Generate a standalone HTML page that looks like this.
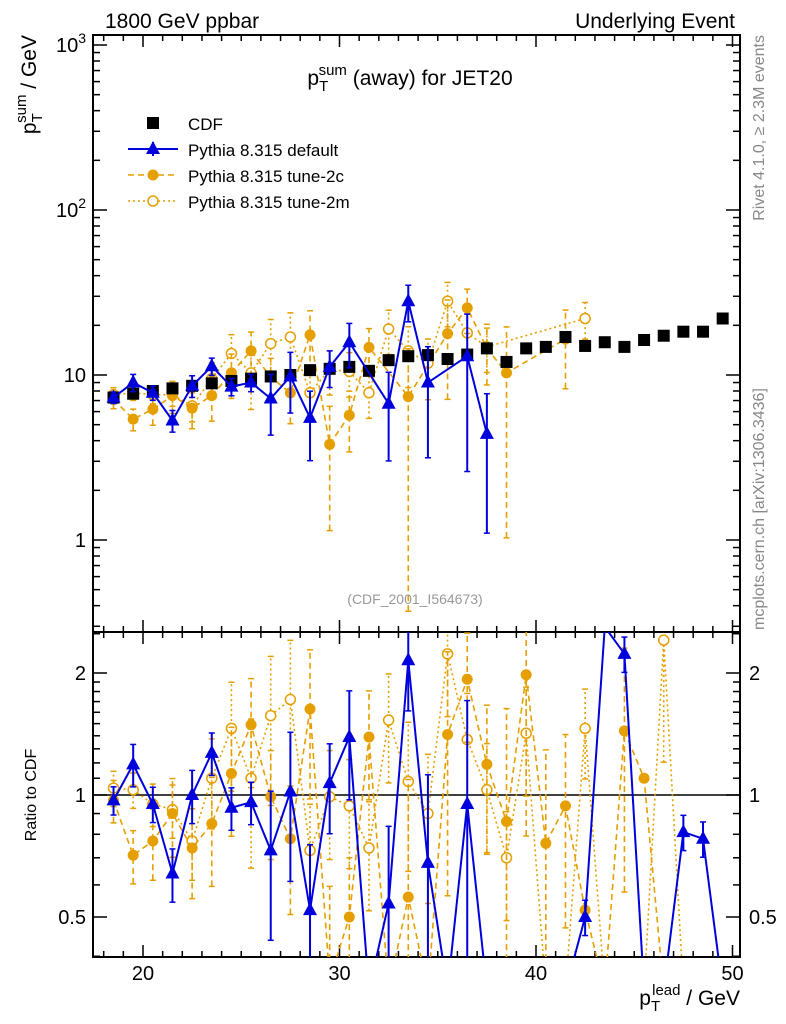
<!DOCTYPE html>
<html><head><meta charset="utf-8"><style>
html,body{margin:0;padding:0;background:#fff;width:786px;height:1024px;overflow:hidden;position:relative}
svg{display:block;font-family:"Liberation Sans",sans-serif}
</style></head><body>
<svg id="c" width="786" height="1024" viewBox="0 0 786 1024" style="position:absolute;left:0;top:0"></svg>
<script>
// ---- data ----
const bins = [18.5,19.5,20.5,21.5,22.5,23.5,24.5,25.5,26.5,27.5,28.5,29.5,30.5,31.5,32.5,33.5,34.5,35.5,36.5,37.5,38.5,39.5,40.5,41.5,42.5,43.5,44.5,45.5,46.5,47.5,48.5,49.5];
const cdf = [7.3,7.7,8.0,8.3,8.6,8.9,9.2,9.5,9.8,10.0,10.7,10.9,11.2,10.6,12.3,13.0,13.2,12.5,13.3,14.5,12.0,14.5,14.8,17.0,15.0,15.8,14.8,16.3,17.3,18.3,18.3,22.0];
const pyDef = [7.3,9.0,7.8,5.3,8.6,11.3,8.5,9.0,7.2,9.8,5.5,11.2,15.8,null,6.7,28,9.0,null,13.0,4.4,null,null,null,null,null,null,null,null,null,null,null,null];
const py2c = [7.1,5.4,6.2,7.5,6.3,7.5,10.3,14.0,9.7,7.8,17.5,3.8,5.7,14.7,null,7.4,null,17.8,25.5,14.5,10.3,null,null,16.5,null,null,null,null,null,null,null,null];
const py2m = [7.6,7.8,7.6,7.6,6.5,9.5,13.5,10.3,15.5,17.0,7.8,10.8,10.5,7.8,19.0,14.0,11.8,28.0,18.0,14.8,null,null,null,null,22.0,null,null,null,null,null,null,null];
const errDef = [0.08,0.12,0.1,0.15,0.15,0.12,0.12,0.12,0.4,0.4,0.45,0.25,0.3,0,0.55,0.25,0.65,0,0.8,0.75,0,0,0,0,0.1,0,0.1,0,0,0.1,0.1,0];
const err2c = [0.12,0.15,0.2,0.22,0.25,0.3,0.3,0.3,0.3,0.35,0.4,0.7,0.4,0.3,0,0.95,0,0.6,0.3,0.4,0.9,0.6,0.7,0.5,0,0,0.6,0,0,0,0,0];
const err2m = [0.1,0.1,0.12,0.15,0.2,0.25,0.3,0.4,0.4,0.4,0.3,0.3,0.3,0.3,0.3,0.4,0.4,0.3,0.3,0.3,0.3,0.3,0,0,0.25,0,0,0,0.5,0,0,0];
const ratioDef = [0.97,1.19,0.95,0.64,1.0,1.27,0.93,0.96,0.73,1.02,0.52,1.07,1.39,0,0.54,2.15,0.68,0,0.95,0,0,0,0,0,0.5,3.0,2.23,0,0,0.81,0.78,0];
const ratio2c = [0.97,0.71,0.77,0.90,0.74,0.85,1.13,1.49,0.99,0.78,1.63,0.35,0.5,1.39,0.3,0.56,0.3,1.41,1.93,1.19,0.86,1.98,0.76,0.94,0.52,0,1.44,1.1,0,0,0,0];
const ratio2m = [1.04,1.03,0.95,0.92,0.77,1.10,1.46,1.10,1.57,1.72,0.73,0.99,0.94,0.74,1.53,1.08,0.9,2.23,1.37,1.03,0.70,1.42,0,0,1.46,0,0,0,2.41,0,0,0];
const mainTicks = [1,10,100,1000];
const mainTickLabels = ["1","10","10\u00B2","10\u00B3"];
const ratioTicks = [0.5,1,2];
const xTicks = [20,30,40,50];

// ---- geometry ----
const L=93,R=740,T=35,MB=632,RB=957;
const X=v=>143+(v-20)*19.65;
const YM=v=>540-Math.log10(v)*165;
const YR=v=>795-Math.log2(v)*122;
const NS="http://www.w3.org/2000/svg";
const svg=document.getElementById('c');
function el(tag,attrs,parent){const e=document.createElementNS(NS,tag);for(const k in attrs)e.setAttribute(k,attrs[k]);(parent||svg).appendChild(e);return e;}
function txt(s,attrs,parent){const e=el('text',attrs,parent);e.textContent=s;return e;}

const defs=el('defs',{});
const c1=el('clipPath',{id:'cm'},defs);el('rect',{x:L,y:T,width:R-L,height:MB-T},c1);
const c2=el('clipPath',{id:'cr'},defs);el('rect',{x:L,y:MB,width:R-L,height:RB-MB},c2);

const fm=el('rect',{x:L,y:T,width:R-L,height:MB-T,fill:'none',stroke:'#000','stroke-width':2});

const fr=el('rect',{x:L,y:MB,width:R-L,height:RB-MB,fill:'none',stroke:'#000','stroke-width':2});


const gx=el('g',{stroke:'#000','stroke-width':1.5});

for(let v=18;v<=50;v++){const x=X(v);const len=v%10==0?12:6;
 [T,MB].forEach(y0=>{el('line',{x1:x,y1:y0,x2:x,y2:y0+len},gx);});
 [MB,RB].forEach(y0=>{el('line',{x1:x,y1:y0,x2:x,y2:y0-len},gx);});}
xTicks.forEach(v=>{const t=txt(String(v),{x:X(v),y:980,'font-size':20,'text-anchor':'middle'});
 });

const gy=el('g',{stroke:'#000','stroke-width':1.5});

for(let d=-1;d<=3;d++)for(let m=1;m<10;m++){const v=m*Math.pow(10,d);const y=YM(v);if(y<T||y>MB)continue;
 const len=m==1?14:7;el('line',{x1:L,y1:y,x2:L+len,y2:y},gy);el('line',{x1:R,y1:y,x2:R-len,y2:y},gy);}
mainTicks.forEach((v,i)=>{const lab=mainTickLabels[i];const y=YM(v)+7;
 let t;
 if(lab.length>2){t=txt('',{x:86,y:y,'font-size':20,'text-anchor':'end'});
  const a=el('tspan',{},t);a.textContent='10';const b=el('tspan',{dy:-9,'font-size':14},t);b.textContent=lab.slice(2)=='\u00B2'?'2':'3';}
 else t=txt(lab,{x:86,y:y,'font-size':20,'text-anchor':'end'});
 });

const gr=el('g',{stroke:'#000','stroke-width':1.5});

for(let v=0.4;v<=2.55;v+=(v<2-1e-9?0.1:0.5)){const y=YR(v);if(y<MB||y>RB)continue;
 const maj=[0.5,1,2].some(m=>Math.abs(m-v)<1e-6);const len=maj?14:7;
 el('line',{x1:L,y1:y,x2:L+len,y2:y},gr);el('line',{x1:R,y1:y,x2:R-len,y2:y},gr);}
ratioTicks.forEach(v=>{const y=YR(v)+7;
 const t1=txt(String(v),{x:86,y:y,'font-size':20,'text-anchor':'end'});
 
 const t2=txt(String(v),{x:749,y:y,'font-size':20});
 });
const ref=el('line',{x1:L,y1:YR(1),x2:R,y2:YR(1),stroke:'#000','stroke-width':1.5});


const BLUE='#0000dd',ORG='#e69f00';
function marker(g,type,x,y,col){
 if(type=='sq')el('rect',{x:x-6,y:y-6,width:12,height:12,fill:'#000'},g);
 else if(type=='tri')el('path',{d:`M${x},${y-8}L${x+7},${y+5}L${x-7},${y+5}Z`,fill:col},g);
 else if(type=='dot')el('circle',{cx:x,cy:y,r:5.5,fill:col},g);
 else el('circle',{cx:x,cy:y,r:5,fill:'#fff',stroke:col,'stroke-width':1.5},g);}
function series(name,vals,errs,Y,clip,col,dash,type,connect,isRatio){
 const g=el('g',{'clip-path':`url(#${clip})`});
 
 const lo0=isRatio?0.33:0.2, hi0=isRatio?2.6:1100;
 const pts=[];
 vals.forEach((v,i)=>{if(v===null)return;if(v<=0&&!isRatio)return;
  const vv=Math.min(Math.max(v,lo0),hi0);pts.push([X(bins[i]),Y(vv),v,errs?errs[i]:0]);});
 if(connect&&pts.length)el('polyline',{points:pts.map(p=>p[0]+','+p[1]).join(' '),fill:'none',stroke:col,'stroke-width':col==BLUE?2:1.6,'stroke-dasharray':dash},g);
 pts.forEach(p=>{if(p[2]<lo0||p[2]>hi0)return;
  if(p[3]>0){const lo=Math.max(p[2]*(1-p[3]),lo0),hi=Math.min(p[2]*(1+p[3]),hi0);
   const y1=Y(lo),y2=Y(hi);
   el('line',{x1:p[0],y1:y1,x2:p[0],y2:y2,stroke:col,'stroke-width':col==BLUE?2:1.6,'stroke-dasharray':dash},g);
   el('line',{x1:p[0]-3,y1:y1,x2:p[0]+3,y2:y1,stroke:col,'stroke-width':1.5},g);
   el('line',{x1:p[0]-3,y1:y2,x2:p[0]+3,y2:y2,stroke:col,'stroke-width':1.5},g);}
  marker(g,type,p[0],p[1],col);});}
series('series-tune-2m',py2m,err2m,YM,'cm',ORG,'2 3','open',true,false);
series('series-tune-2c',py2c,err2c,YM,'cm',ORG,'6 4','dot',true,false);
series('series-cdf',cdf,null,YM,'cm','#000','','sq',false,false);
series('series-default',pyDef,errDef,YM,'cm',BLUE,'','tri',true,false);
series('ratio-tune-2m',ratio2m,err2m,YR,'cr',ORG,'2 3','open',true,true);
series('ratio-tune-2c',ratio2c,err2c,YR,'cr',ORG,'6 4','dot',true,true);
series('ratio-default',ratioDef,errDef,YR,'cr',BLUE,'','tri',true,true);
</script>
<svg width="786" height="1024" style="position:absolute;left:0;top:0" font-family="Liberation Sans, sans-serif">
<text x="105" y="28" font-size="21">1800 GeV ppbar</text>
<text x="735" y="28" font-size="21" text-anchor="end">Underlying Event</text>
<text x="410" y="85" font-size="21" text-anchor="middle">p<tspan font-size="15" dy="6">T</tspan><tspan font-size="15" dx="-8" dy="-16">sum</tspan><tspan dy="10"> (away) for JET20</tspan></text>
<g font-size="17">
<rect x="147" y="117" width="12" height="12" fill="#000"/>
<text x="188" y="130">CDF</text>
<line x1="128" y1="149" x2="178" y2="149" stroke="#0000dd" stroke-width="2"/>
<line x1="153" y1="142" x2="153" y2="156" stroke="#0000dd" stroke-width="2"/>
<path d="M153,141L160,154L146,154Z" fill="#0000dd"/>
<text x="188" y="156">Pythia 8.315 default</text>
<line x1="128" y1="175" x2="178" y2="175" stroke="#e69f00" stroke-width="1.6" stroke-dasharray="6 4"/>
<circle cx="153" cy="175" r="5.5" fill="#e69f00"/>
<text x="188" y="182">Pythia 8.315 tune-2c</text>
<line x1="128" y1="201" x2="178" y2="201" stroke="#e69f00" stroke-width="1.6" stroke-dasharray="2 3"/>
<circle cx="153" cy="201" r="5" fill="#fff" stroke="#e69f00" stroke-width="1.5"/>
<text x="188" y="208">Pythia 8.315 tune-2m</text>
</g>
<text x="415" y="604" font-size="14" fill="#999" text-anchor="middle">(CDF_2001_I564673)</text>
<text transform="translate(764,35) rotate(-90)" font-size="16" fill="#888" text-anchor="end">Rivet 4.1.0, ≥ 2.3M events</text>
<text transform="translate(764,630) rotate(-90)" font-size="16" fill="#888">mcplots.cern.ch [arXiv:1306.3436]</text>
<text transform="translate(36,35) rotate(-90)" font-size="21" text-anchor="end">p<tspan font-size="15" dy="6">T</tspan><tspan font-size="15" dx="-8" dy="-16">sum</tspan><tspan dy="10"> / GeV</tspan></text>
<text transform="translate(36,795) rotate(-90)" font-size="16" text-anchor="middle">Ratio to CDF</text>
<text x="740" y="1005" font-size="21" text-anchor="end">p<tspan font-size="15" dy="6">T</tspan><tspan font-size="15" dx="-8" dy="-16">lead</tspan><tspan dy="10"> / GeV</tspan></text>
</svg>
</body></html>
